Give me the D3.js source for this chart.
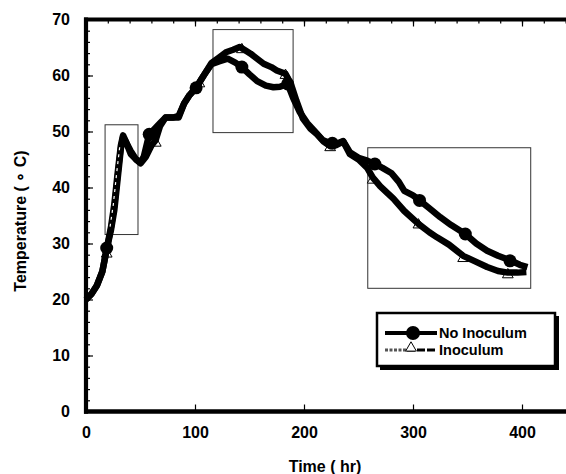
<!DOCTYPE html>
<html lang="en">
<head>
<meta charset="UTF-8">
<title>Temperature vs time</title>
<script src="https://d3js.org/d3.v7.min.js"></script>
<style>
    body, html { margin: 0; padding: 0; background: #fff; }
    svg { display: block; font-family: "Liberation Sans", Arial, sans-serif; font-weight: bold; }
</style>
</head>
<body>
<div id="chart"></div>
<script>
// series: No Inoculum
const timeNoInoc = [0, 5, 10, 15, 19, 23, 26, 29, 32, 34, 37, 41, 46, 50, 53, 58, 63, 68, 73, 80, 85, 90, 95, 101,
    108, 115, 122, 130, 137, 143, 150, 157, 165, 172, 178, 185, 190, 196, 203, 210, 217, 223, 230, 236, 242, 250,
    258, 265, 272, 280, 287, 292, 300, 306, 315, 325, 335, 348, 358, 368, 378, 389, 398, 405]
const tempNoInoc = [20, 21, 22.5, 25, 29, 32.5, 36, 41.5, 47, 49, 48, 46, 45, 44.5, 45.5, 49.5, 50.5, 51.5, 52.5, 52.5, 52.5, 55, 56.5, 57.8,
    60, 62, 62.5, 63, 62.3, 61.5, 60.2, 59, 58.2, 57.9, 58, 58.5, 56, 53.5, 51.5, 50, 48.5, 48, 47.8, 48.3, 46.3, 45.3,
    44.8, 44.2, 43.5, 42.6, 41, 39.4, 38.6, 37.7, 36.3, 34.7, 33.3, 31.7, 30, 28.7, 27.8, 27, 26.2, 25.8]

// series: Inoculum
const timeInoc = [0, 5, 10, 15, 19, 23, 26, 29, 32, 34, 37, 41, 46, 50, 55, 60, 64, 68, 73, 80, 85, 90, 95, 101,
    108, 115, 122, 129, 135, 141, 146, 151, 157, 163, 170, 175, 183, 188, 193, 199, 206, 212, 218, 224, 230, 236,
    242, 250, 258, 263, 270, 282, 292, 305, 315, 322, 333, 346, 357, 368, 378, 387, 396, 404]
const tempInoc = [20, 21, 22.5, 25, 29, 33, 37, 42.5, 47.5, 49.3, 48, 46.5, 45, 44.3, 45.5, 47.5, 48.5, 51, 52.5, 52.5, 52.8, 55, 56.5, 57.8,
    60, 62.2, 63.2, 64.2, 64.6, 65.1, 64.5, 63.9, 63, 62.1, 61.5, 60.9, 60.3, 58.5, 55.5, 52.3, 50.5, 49.5, 48.2, 47.4, 47.6, 48.2,
    46, 45, 43.5, 41.8, 40.2, 38, 35.8, 33.5, 32, 31.1, 29.8, 27.8, 26.8, 25.8, 25.1, 24.8, 24.8, 24.9]

// marker symbols
const markTimeNoInoc = [19, 58, 101, 143, 185, 226, 265, 306, 348, 389]
const markTempNoInoc = [29.2, 49.5, 57.8, 61.5, 58.5, 47.9, 44.2, 37.7, 31.7, 26.9]
const markTimeInoc = [19, 64, 104, 143, 183, 224, 263, 305, 346, 387]
const markTempInoc = [28.4, 48.2, 58.8, 64.9, 60.3, 47.4, 41.6, 33.6, 27.6, 24.7]

// highlighted regions [t0, t1, T0, T1]
const boxes = [
    [17.5, 47.7, 31.6, 51.2],
    [116.5, 190, 49.8, 68.2],
    [258.5, 408, 22, 47.1]
]

const xTicks = [0, 100, 200, 300, 400]
const yTicks = [0, 10, 20, 30, 40, 50, 60, 70]
const seriesNames = ["No Inoculum", "Inoculum"]

const width = 566, height = 474

const svg = d3.select("#chart").append("svg")
    .attr("width", width)
    .attr("height", height)

const x = d3.scaleLinear().domain([0, 440]).range([86, 565.6])
const y = d3.scaleLinear().domain([0, 70]).range([411.5, 19.5])

// axes (ticks point inward)
const gx = svg.append("g").attr("transform", "translate(0," + y(0) + ")")
gx.call(d3.axisBottom(x).tickValues(d3.range(0, 441, 20)).tickSize(-4).tickFormat(""))
gx.call(d3.axisBottom(x).tickValues(xTicks).tickSize(-7).tickPadding(15).tickFormat(d3.format("d")))
const gt = svg.append("g").attr("transform", "translate(0," + y(70) + ")")
gt.call(d3.axisTop(x).tickValues(d3.range(0, 441, 20)).tickSize(-4).tickFormat(""))
gt.append("g").call(d3.axisTop(x).tickValues(xTicks).tickSize(-7).tickFormat(""))
const gy = svg.append("g").attr("transform", "translate(" + x(0) + ",0)")
gy.call(d3.axisLeft(y).tickValues(d3.range(0, 71, 2)).tickSize(-4).tickFormat(""))
gy.append("g").call(d3.axisLeft(y).tickValues(yTicks).tickSize(-7).tickPadding(16).tickFormat(d3.format("d")))

svg.selectAll(".domain").remove()
svg.selectAll(".tick line").attr("stroke", "#000").attr("stroke-width", 1.2)
svg.selectAll(".tick text").attr("fill", "#000").style("font-size", "16px").style("font-weight", "bold")
    .style("font-family", "'Liberation Sans', Arial, sans-serif")

// thick frame lines
svg.append("line").attr("x1", x(0)).attr("x2", x(0)).attr("y1", y(70) - 2).attr("y2", y(0) + 2.2)
    .attr("stroke", "#000").attr("stroke-width", 4.2)
svg.append("line").attr("x1", x(0) - 2).attr("x2", width).attr("y1", y(0)).attr("y2", y(0))
    .attr("stroke", "#000").attr("stroke-width", 4.5)
svg.append("line").attr("x1", x(0) - 2).attr("x2", width).attr("y1", y(70)).attr("y2", y(70))
    .attr("stroke", "#000").attr("stroke-width", 4)

// region boxes
svg.append("g").selectAll("rect")
    .data(boxes)
    .enter().append("rect")
    .attr("x", d => x(d[0]))
    .attr("y", d => y(d[3]))
    .attr("width", d => x(d[1]) - x(d[0]))
    .attr("height", d => y(d[2]) - y(d[3]))
    .attr("fill", "none")
    .attr("stroke", "#333")
    .attr("stroke-width", 1)

const line = d3.line()
    .x(d => x(d[0]))
    .y(d => y(d[1]))

const noInoc = d3.zip(timeNoInoc, tempNoInoc)
const inoc = d3.zip(timeInoc, tempInoc)

const tri = d3.symbol().type(d3.symbolTriangle).size(50)

// triangles sit under the lines
svg.append("g").selectAll("path")
    .data(d3.zip(markTimeInoc, markTempInoc))
    .enter().append("path")
    .attr("d", tri)
    .attr("transform", d => "translate(" + x(d[0]) + "," + (y(d[1]) + 1.5) + ")")
    .attr("fill", "#fff")
    .attr("stroke", "#000")
    .attr("stroke-width", 1)

svg.append("path").datum(noInoc)
    .attr("d", line)
    .attr("fill", "none")
    .attr("stroke", "#000")
    .attr("stroke-width", 6.5)
    .attr("stroke-linejoin", "round")

svg.append("path").datum(inoc)
    .attr("d", line)
    .attr("fill", "none")
    .attr("stroke", "#000")
    .attr("stroke-width", 6.5)
    .attr("stroke-linejoin", "round")

// dashes show through where the inoculum trace is steep
svg.append("path").datum(inoc.filter(d => d[0] >= 23 && d[0] <= 33))
    .attr("d", line)
    .attr("fill", "none")
    .attr("stroke", "#fff")
    .attr("stroke-width", 1.2)
    .attr("stroke-dasharray", "3,4")
    .attr("transform", "translate(-1,0)")

svg.append("g").selectAll("circle")
    .data(d3.zip(markTimeNoInoc, markTempNoInoc))
    .enter().append("circle")
    .attr("cx", d => x(d[0]))
    .attr("cy", d => y(d[1]))
    .attr("r", 6.5)
    .attr("fill", "#000")

// axis titles
svg.append("text")
    .attr("x", 325).attr("y", 472)
    .attr("text-anchor", "middle")
    .style("font-size", "16px")
    .text("Time ( hr)")

svg.append("text")
    .attr("transform", "translate(26,221) rotate(-90)")
    .attr("text-anchor", "middle")
    .style("font-size", "16px")
    .text("Temperature ( \u2218 C)")

// legend
const lg = svg.append("g").attr("transform", "translate(377,313)")
lg.append("rect").attr("x", 3).attr("y", 3).attr("width", 179).attr("height", 54).attr("fill", "#000")
lg.append("rect").attr("x", 0).attr("y", 0).attr("width", 178).attr("height", 53)
    .attr("fill", "#fff").attr("stroke", "#000").attr("stroke-width", 2.5)

lg.append("line").attr("x1", 8).attr("x2", 60).attr("y1", 20).attr("y2", 20)
    .attr("stroke", "#000").attr("stroke-width", 4)
lg.append("circle").attr("cx", 36).attr("cy", 20).attr("r", 7).attr("fill", "#000")

lg.append("line").attr("x1", 8).attr("x2", 30).attr("y1", 37).attr("y2", 37)
    .attr("stroke", "#555").attr("stroke-width", 3).attr("stroke-dasharray", "3,1.5")
lg.append("line").attr("x1", 30).attr("x2", 60).attr("y1", 37).attr("y2", 37)
    .attr("stroke", "#000").attr("stroke-width", 3).attr("stroke-dasharray", "8,2")
lg.append("path").attr("d", tri).attr("transform", "translate(34,35)")
    .attr("fill", "#fff").attr("stroke", "#000").attr("stroke-width", 1)

lg.selectAll(".lt")
    .data(seriesNames)
    .enter().append("text")
    .attr("x", 62)
    .attr("y", (d, i) => 25 + i * 17)
    .style("font-size", "14.5px")
    .text(d => d)
</script>
</body>
</html>
